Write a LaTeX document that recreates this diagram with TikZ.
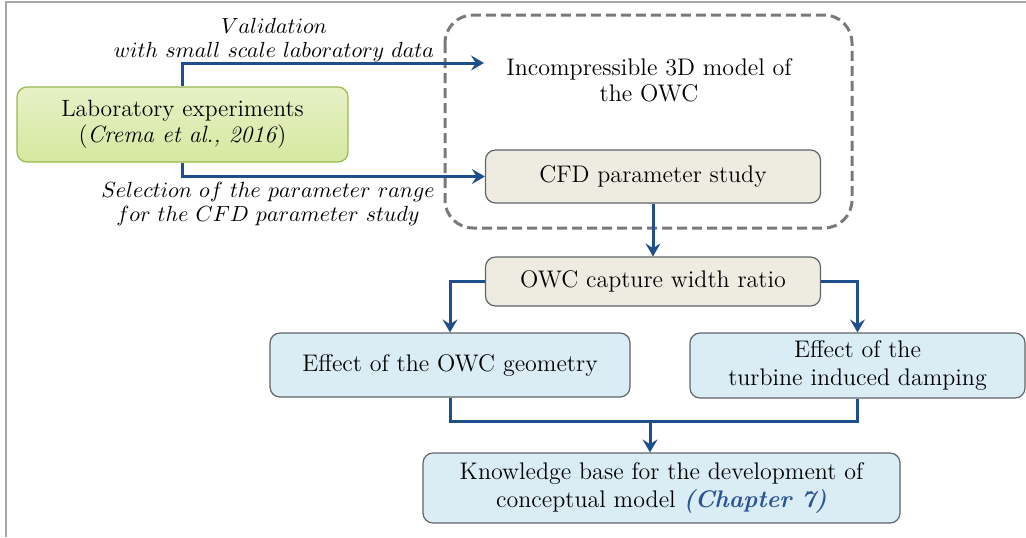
\documentclass[tikz,border=0pt]{standalone}
\usetikzlibrary{arrows.meta,calc}
\definecolor{flow}{RGB}{31,78,140}
\definecolor{labfill}{RGB}{214,232,160}
\definecolor{labdraw}{RGB}{150,185,80}
\definecolor{beige}{RGB}{238,236,225}
\definecolor{paleblue}{RGB}{218,236,244}
\definecolor{boxline}{RGB}{95,100,105}
\definecolor{chap}{RGB}{40,85,150}
\tikzset{
  px/.style={x=0.5pt,y=-0.5pt},
  box/.style={rounded corners=5pt,line width=0.6pt,align=center,inner sep=0pt,
    font=\fontsize{12}{13.5}\selectfont},
  labbox/.style={box,draw=labdraw,top color=labfill!60,bottom color=labfill},
  greybox/.style={box,draw=boxline,fill=beige},
  bluebox/.style={box,draw=boxline,fill=paleblue},
  flowline/.style={draw=flow,line width=1.5pt,-{Stealth[length=6.5pt,width=7.5pt,inset=2.4pt]}},
  joinline/.style={draw=flow,line width=1.5pt},
  note/.style={align=center,font=\fontsize{11.1}{12.2}\selectfont,inner sep=0pt},
}
\begin{document}
\begin{tikzpicture}[px]
\useasboundingbox (0,0) rectangle (1026,537);
% outer frame
\draw[gray!70,line width=1pt] (6,537) -- (6,2) -- (1026,2);
% dashed group around the CFD model
\draw[gray!95!black,line width=1.5pt,dash pattern=on 5pt off 2.5pt,rounded corners=14pt]
  (445,15) rectangle (852,228);

\node[labbox,minimum width=165.5pt,minimum height=37.5pt,
  font=\fontsize{11.8}{12.8}\selectfont] (lab) at (182.5,124.5)
  {Laboratory experiments\\(\textit{Crema et al., 2016})};
\node[note,font=\fontsize{12}{12.8}\selectfont] (model) at (649,80.5)
  {Incompressible 3D model of\\the OWC};
\node[greybox,minimum width=167.5pt,minimum height=26.5pt] (cfd) at (653,176.5)
  {CFD parameter study};
\node[greybox,minimum width=167.5pt,minimum height=24.5pt] (cwr) at (653,281.5)
  {OWC capture width ratio};
\node[bluebox,minimum width=180pt,minimum height=32pt] (geo) at (450,365)
  {Effect of the OWC geometry};
\node[bluebox,minimum width=167.5pt,minimum height=32.5pt] (turb) at (857.5,365.5)
  {Effect of the\\turbine induced damping};
\node[bluebox,minimum width=238.5pt,minimum height=35pt,
  font=\fontsize{12}{14}\selectfont] (know) at (661.5,488)
  {Knowledge base for the development of\\conceptual model \textcolor{chap}{\bfseries\itshape(Chapter 7)}};

\node[note] (val) at (274,40)
  {$Validation$\\$with\ small\ scale\ laboratory\ data$};
\node[note] (sel) at (268,204)
  {$Selection\ of\ the\ parameter\ range$\\$for\ the\ CFD\ parameter\ study$};

\coordinate (modelin) at (484,63);
\coordinate (merge) at (650,421);

\draw[flowline] (lab.north) |- (modelin);
\draw[flowline] (lab.south) |- (cfd.west);
\draw[flowline] (cfd.south) -- (cwr.north);
\draw[flowline] (cwr.west) -| (geo.north);
\draw[flowline] (cwr.east) -| (turb.north);
\draw[joinline] (geo.south) |- (merge) -| (turb.south);
\draw[flowline] (merge) -- (merge |- know.north);
\end{tikzpicture}
\end{document}
